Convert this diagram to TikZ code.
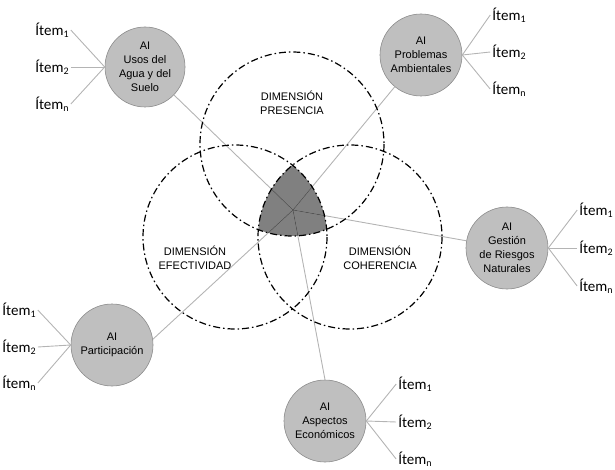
\documentclass[tikz,border=0pt]{standalone}
\usepackage{fontspec}
\setmainfont{Liberation Sans}
\newfontfamily\itemfont{Carlito}
\usetikzlibrary{calc}
\definecolor{aifill}{HTML}{BFBFBF}
\definecolor{aidraw}{HTML}{8C8C8C}
\definecolor{linkgray}{HTML}{B4B4B4}
\definecolor{coregray}{HTML}{808080}
\definecolor{corelink}{HTML}{555555}
\newcommand\itm[1]{Ítem\raisebox{-0.35ex}{\fontsize{10}{10}\selectfont #1}}
\tikzset{
  dimcircle/.style={draw=black, line width=1.2pt, dash pattern=on 7pt off 3pt on 1.5pt off 3pt},
  aicircle/.style={circle, fill=aifill, draw=aidraw, line width=0.6pt, minimum size=82pt, inner sep=0pt, align=center, font=\fontsize{11}{14}\selectfont},
  itemlabel/.style={font=\itemfont\fontsize{15}{15}\selectfont, inner sep=2pt},
  dimlabel/.style={align=center, font=\fontsize{11}{14}\selectfont},
  link/.style={draw=linkgray, line width=0.9pt},
  corelinkstyle/.style={draw=corelink, line width=0.9pt},
  twig/.style={draw=linkgray, line width=0.9pt},
}
\begin{document}
\begin{tikzpicture}[x=1pt,y=-1pt]
\useasboundingbox (0,0) rectangle (615,470);
% dimension circle centres
\coordinate (cp) at (292,144);
\coordinate (ce) at (235,237);
\coordinate (cc) at (350,237);
\coordinate (hub) at (293,210);
% shaded intersection
\begin{scope}
  \clip (cp) circle (92);
  \clip (ce) circle (92);
  \fill[coregray] (cc) circle (92);
\end{scope}
% AI nodes
\node[aicircle, minimum size=80pt] (usos) at (145,67) {AI\\Usos del\\Agua y del\\Suelo};
\node[aicircle] (prob) at (421,55) {AI\\Problemas\\Ambientales};
\node[aicircle] (gest) at (507,248) {AI\\Gestión\\de Riesgos\\Naturales};
\node[aicircle] (part) at (112,345) {AI\\Participación};
\node[aicircle] (asp) at (325,421) {AI\\Aspectos\\Económicos};
% links from hub
\path[link] (hub) -- (usos);
\path[link] (hub) -- (prob);
\path[link] (hub) -- (gest);
\path[link] (hub) -- (part.8);
\path[link] (hub) -- (asp.north);
% darker parts inside the core
\begin{scope}
  \clip (cp) circle (92);
  \clip (ce) circle (92);
  \clip (cc) circle (92);
  \path[corelinkstyle] (hub) -- (usos);
  \path[corelinkstyle] (hub) -- (prob);
  \path[corelinkstyle] (hub) -- (gest);
  \path[corelinkstyle] (hub) -- (part.8);
  \path[corelinkstyle] (hub) -- (asp.north);
\end{scope}
% dash-dot circles
\draw[dimcircle] (cp) circle (92);
\draw[dimcircle] (ce) circle (92);
\draw[dimcircle] (cc) circle (92);
% dimension labels
\node[dimlabel] (dp) at (292,103) {DIMENSIÓN\\PRESENCIA};
\node[dimlabel] (de) at (195,258) {DIMENSIÓN\\EFECTIVIDAD};
\node[dimlabel] (dc) at (380,258) {DIMENSIÓN\\COHERENCIA};
% items: usos
\node[itemlabel] (u1) at (52,30) {\itm{1}};
\node[itemlabel] (u2) at (52,67) {\itm{2}};
\node[itemlabel] (un) at (52,104) {\itm{n}};
\path[twig] (u1.east) -- (usos.west);
\path[twig] (u2.east) -- (usos.west);
\path[twig] (un.east) -- (usos.west);
% items: problemas
\node[itemlabel] (p1) at (509,15) {\itm{1}};
\node[itemlabel] (p2) at (509,52) {\itm{2}};
\node[itemlabel] (pn) at (509,89) {\itm{n}};
\path[twig] (p1.west) -- (prob.east);
\path[twig] (p2.west) -- (prob.east);
\path[twig] (pn.west) -- (prob.east);
% items: gestion
\node[itemlabel] (g1) at (596,210) {\itm{1}};
\node[itemlabel] (g2) at (596,248) {\itm{2}};
\node[itemlabel] (gn) at (596,286) {\itm{n}};
\path[twig] (g1.west) -- (gest.east);
\path[twig] (g2.west) -- (gest.east);
\path[twig] (gn.west) -- (gest.east);
% items: participacion
\node[itemlabel] (a1) at (19,310) {\itm{1}};
\node[itemlabel] (a2) at (19,347) {\itm{2}};
\node[itemlabel] (an) at (19,383) {\itm{n}};
\path[twig] (a1.east) -- (part.west);
\path[twig] (a2.east) -- (part.west);
\path[twig] (an.east) -- (part.west);
% items: aspectos
\node[itemlabel] (e1) at (415,384) {\itm{1}};
\node[itemlabel] (e2) at (415,422) {\itm{2}};
\node[itemlabel] (en) at (415,459) {\itm{n}};
\path[twig] (e1.west) -- (asp.east);
\path[twig] (e2.west) -- (asp.east);
\path[twig] (en.west) -- (asp.east);
\end{tikzpicture}
\end{document}
